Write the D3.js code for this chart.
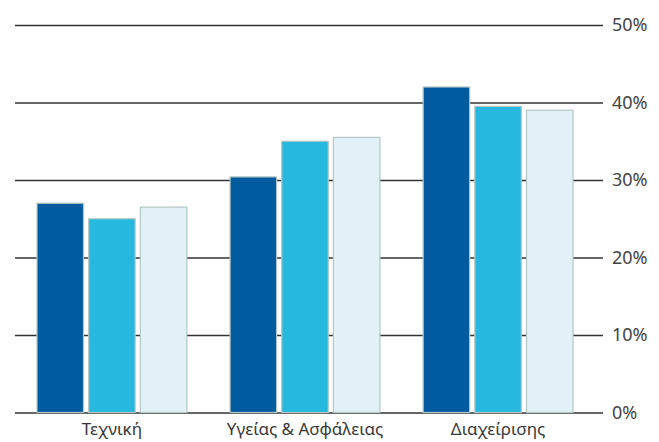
<!DOCTYPE html>
<html>
<head>
<meta charset="utf-8">
<script src="https://d3js.org/d3.v7.min.js"></script>
<style>
    body { margin: 0; background: #fff; }
    svg text { font-family: "Noto Sans", "Open Sans", sans-serif; }
    .grid line { stroke: #333; stroke-width: 1.4px; }
    .grid path { stroke-width: 0; }
    .axis--y path { stroke-width: 0; }
    .axis--y text { font-size: 18px; fill: #444; }
    .axis--x path, .axis--x line { stroke-width: 0; }
    .axis--x text { font-size: 17px; fill: #383838; }
</style>
</head>
<body>
<svg width="659" height="442"></svg>
<script>
    // chart data
    var categories = ["Τεχνική", "Υγείας & Ασφάλειας", "Διαχείρισης"];
    var series = ["s1", "s2", "s3"];
    var values = [
        [27.0, 25.0, 26.5],
        [30.4, 35.0, 35.5],
        [42.0, 39.5, 39.0]
    ];
    var yTicks = [0, 10, 20, 30, 40, 50];
    var colors = ["#005b9f", "#27b8df", "#e2f1f8"];

    var svg = d3.select("svg"),
        plotLeft = 15, plotRight = 603, plotTop = 25, plotBottom = 412.5;

    var x = d3.scaleBand()
        .domain(categories)
        .range([plotLeft, 595])
        .paddingInner(0.224)
        .paddingOuter(0.114);

    var x1 = d3.scaleBand()
        .domain(series)
        .range([0, x.bandwidth()])
        .paddingInner(0.1);

    var y = d3.scaleLinear()
        .domain([0, 50])
        .range([plotBottom, plotTop]);

    // gridlines
    svg.append("g")
        .attr("class", "grid")
        .attr("transform", "translate(" + plotRight + ",0)")
        .call(d3.axisLeft(y).tickValues(yTicks).tickSize(plotRight - plotLeft).tickFormat(""));

    // bars
    var group = svg.selectAll(".group")
        .data(categories)
        .enter().append("g")
        .attr("class", "group")
        .attr("transform", function (d) { return "translate(" + x(d) + ",0)"; });

    group.selectAll("rect")
        .data(function (d, i) { return values[i].map(function (v, j) { return { key: series[j], v: v, c: colors[j] }; }); })
        .enter().append("rect")
        .attr("x", function (d) { return x1(d.key); })
        .attr("y", function (d) { return y(d.v); })
        .attr("width", x1.bandwidth())
        .attr("height", function (d) { return y(0) - y(d.v); })
        .attr("fill", function (d) { return d.c; })
        .attr("stroke", "#b3c7c4")
        .attr("stroke-width", 1.2);

    // right axis labels
    svg.append("g")
        .attr("class", "axis axis--y")
        .attr("transform", "translate(" + plotRight + ",0)")
        .call(d3.axisRight(y).tickValues(yTicks).tickSize(0).tickPadding(9)
            .tickFormat(function (d) { return d + "%"; }));

    // category labels
    svg.append("g")
        .attr("class", "axis axis--x")
        .attr("transform", "translate(0," + plotBottom + ")")
        .call(d3.axisBottom(x).tickSize(0).tickPadding(10));
</script>
</body>
</html>
